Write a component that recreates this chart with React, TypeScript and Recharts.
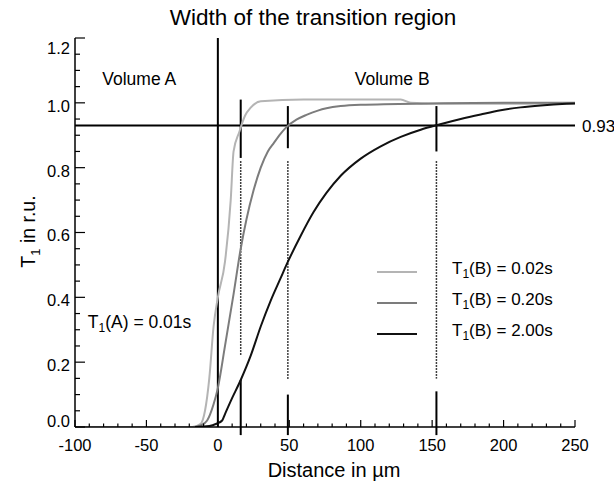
import React from "react";
import {
  Legend,
  Line,
  LineChart,
  ReferenceDot,
  ReferenceLine,
  XAxis,
  YAxis,
} from "recharts";

const FONT = '"Liberation Sans", Arial, Helvetica, sans-serif';

// T1(B) = 0.02s
const fastX = [-100, -18, -12, -9, -6, -3, 0, 5, 9, 11, 15, 19, 23, 30, 60, 100, 128, 135, 160, 200, 250];
const fastY = [0, 0, 0.01, 0.05, 0.15, 0.31, 0.4, 0.51, 0.7, 0.85, 0.91, 0.96, 0.985, 1.005, 1.01, 1.01, 1.01, 1.0, 0.997, 0.997, 0.998];

// T1(B) = 0.20s
const midX = [-16, -12, -7.5, -3, 0, 5, 11, 16, 20, 25, 30, 35, 39, 44, 48, 55, 62, 70, 76, 86, 100, 150, 200, 250];
const midY = [0, 0.005, 0.02, 0.07, 0.12, 0.25, 0.41, 0.55, 0.64, 0.73, 0.8, 0.85, 0.875, 0.905, 0.925, 0.948, 0.963, 0.976, 0.983, 0.99, 0.994, 0.998, 1.0, 1.0];

// T1(B) = 2.00s
const slowX = [-16, -6, -1, 3, 5, 9, 16, 23, 30, 37, 44, 48, 58, 67, 76, 86, 100, 114, 128, 142, 155, 170, 184, 198, 212, 226, 244, 250];
const slowY = [0, 0.003, 0.01, 0.02, 0.04, 0.08, 0.145, 0.22, 0.31, 0.39, 0.46, 0.5, 0.59, 0.663, 0.722, 0.775, 0.828, 0.866, 0.895, 0.917, 0.933, 0.95, 0.964, 0.977, 0.986, 0.992, 0.997, 0.998];

const seriesNames = ["0.02s", "0.20s", "2.00s"];
const seriesColors = ["#b4b4b4", "#7c7c7c", "#111111"];

const xMajor = [-100, -50, 0, 50, 100, 150, 200, 250];
const yMajor = [0, 0.2, 0.4, 0.6, 0.8, 1.0, 1.2];
const xMinor = Array.from({ length: 36 }, (_, i) => -100 + i * 10);
const yMinor = Array.from({ length: 25 }, (_, i) => Math.round(i * 5) / 100);

// width markers where each curve reaches 0.93
const threshold = 0.93;
const markerX = [16, 49, 153];
const markerTop = [1.01, 0.99, 0.99];
const markerUpperEnd = [0.83, 0.86, 0.85];
const dottedTop = [0.82, 0.82, 0.82];
const dottedEnd = [0.22, 0.145, 0.15];
const lowerTop = [0.145, 0.1, 0.11];
const lowerEnd = -0.025;

const toRows = (xs: number[], ys: number[]) => xs.map((x, i) => ({ x, y: ys[i] }));
const fastData = toRows(fastX, fastY);
const midData = toRows(midX, midY);
const slowData = toRows(slowX, slowY);

const isMajorX = (v: number) => xMajor.includes(v);
const isMajorY = (v: number) => yMajor.some((m) => Math.abs(m - v) < 1e-6);

function BottomTick({ x, y, payload }: any) {
  const v = payload.value;
  const major = isMajorX(v);
  return (
    <g>
      <line x1={x} x2={x} y1={y} y2={y - (major ? 7 : 3.5)} stroke="#000" strokeWidth={1.2} />
      {major && (
        <text x={x} y={y + 12} dy="0.72em" textAnchor="middle" fontSize={16.5} fontFamily={FONT} fill="#000">
          {v}
        </text>
      )}
    </g>
  );
}

function TopTick({ x, y, payload }: any) {
  const major = isMajorX(payload.value);
  return <line x1={x} x2={x} y1={y} y2={y + (major ? 7 : 3.5)} stroke="#000" strokeWidth={1.2} />;
}

function LeftTick({ x, y, payload }: any) {
  const v = payload.value;
  const major = isMajorY(v);
  const shift = v > 1.15 ? 10 : v < 0.05 ? -6 : 3;
  return (
    <g>
      <line x1={x} x2={x + (major ? 10 : 5)} y1={y} y2={y} stroke="#000" strokeWidth={1.2} />
      {major && (
        <text x={x - 5} y={y + shift} dy="0.36em" textAnchor="end" fontSize={16.5} fontFamily={FONT} fill="#000">
          {v.toFixed(1)}
        </text>
      )}
    </g>
  );
}

function RightTick({ x, y, payload }: any) {
  const major = isMajorY(payload.value);
  return <line x1={x} x2={x - (major ? 10 : 5)} y1={y} y2={y} stroke="#000" strokeWidth={1.2} />;
}

const note = (text: React.ReactNode, anchor: "start" | "middle") => ({ viewBox }: any) => (
  <text
    x={viewBox.x + viewBox.width / 2}
    y={viewBox.y + viewBox.height / 2}
    dy="0.36em"
    textAnchor={anchor}
    fontSize={17.5}
    fontFamily={FONT}
    fill="#000"
  >
    {text}
  </text>
);

function LegendContent({ payload }: any) {
  return (
    <div style={{ fontFamily: FONT, fontSize: 17, color: "#000" }}>
      {(payload || []).map((p: any) => (
        <div key={p.value} style={{ display: "flex", alignItems: "center", height: 31 }}>
          <svg width={40} height={4}>
            <line x1={0} x2={40} y1={2} y2={2} stroke={p.color} strokeWidth={2} />
          </svg>
          <span style={{ marginLeft: 35, lineHeight: "20px" }}>
            T<sub style={{ fontSize: 12 }}>1</sub>(B) = {p.value}
          </span>
        </div>
      ))}
    </div>
  );
}

const axisLine = { stroke: "#000", strokeWidth: 1.5 };

export default function App() {
  return (
    <div style={{ position: "absolute", left: 0, top: 0, width: 614, height: 484, background: "#fff" }}>
      <div
        style={{
          position: "absolute",
          left: 6,
          top: 4,
          width: 614,
          textAlign: "center",
          fontFamily: FONT,
          fontSize: 22.5,
          lineHeight: "28px",
          color: "#000",
        }}
      >
        Width of the transition region
      </div>
      <LineChart width={614} height={484} margin={{ top: 38, right: 39, bottom: 27, left: 30 }}>
        <XAxis
          dataKey="x"
          type="number"
          domain={[-100, 250]}
          ticks={xMinor}
          interval={0}
          allowDataOverflow
          height={30}
          tickSize={0}
          tickMargin={0}
          tickLine={false}
          axisLine={axisLine}
          tick={BottomTick}
          label={{
            content: ({ viewBox }: any) => (
              <text
                x={viewBox.x + viewBox.width / 2 + 9}
                y={viewBox.y + 43}
                dy="0.36em"
                textAnchor="middle"
                fontSize={20}
                fontFamily={FONT}
                fill="#000"
              >
                Distance in µm
              </text>
            ),
          }}
        />
        <XAxis
          xAxisId="top"
          orientation="top"
          type="number"
          domain={[-100, 250]}
          ticks={xMinor}
          interval={0}
          allowDataOverflow
          height={0}
          tickSize={0}
          tickMargin={0}
          tickLine={false}
          axisLine={axisLine}
          tick={TopTick}
        />
        <YAxis
          type="number"
          domain={[0, 1.2]}
          ticks={yMinor}
          interval={0}
          allowDataOverflow
          width={45}
          tickSize={0}
          tickMargin={0}
          tickLine={false}
          axisLine={axisLine}
          tick={LeftTick}
          label={{
            content: ({ viewBox }: any) => {
              const cx = viewBox.x - 2;
              const cy = viewBox.y + viewBox.height / 2 - 1;
              return (
                <text
                  transform={`rotate(-90 ${cx} ${cy})`}
                  x={cx}
                  y={cy}
                  dy="0.36em"
                  textAnchor="middle"
                  fontSize={19.5}
                  fontFamily={FONT}
                  fill="#000"
                >
                  <tspan>T</tspan>
                  <tspan dy={5} fontSize={13}>1</tspan>
                  <tspan dy={-5}> in r.u.</tspan>
                </text>
              );
            },
          }}
        />
        <YAxis
          yAxisId="right"
          orientation="right"
          type="number"
          domain={[0, 1.2]}
          ticks={yMinor}
          interval={0}
          allowDataOverflow
          width={0}
          tickSize={0}
          tickMargin={0}
          tickLine={false}
          axisLine={axisLine}
          tick={RightTick}
        />

        <ReferenceLine x={0} stroke="#000" strokeWidth={2} />
        <ReferenceLine
          y={threshold}
          stroke="#000"
          strokeWidth={2}
          label={{
            content: ({ viewBox }: any) => (
              <text x={viewBox.x + viewBox.width + 7} y={viewBox.y} dy="0.36em" fontSize={17} fontFamily={FONT} fill="#000">
                {threshold.toFixed(2)}
              </text>
            ),
          }}
        />

        {markerX.map((m, i) => (
          <ReferenceLine
            key={`u${m}`}
            segment={[{ x: m, y: markerTop[i] }, { x: m, y: markerUpperEnd[i] }]}
            stroke="#000"
            strokeWidth={2}
          />
        ))}
        {markerX.map((m, i) => (
          <ReferenceLine
            key={`d${m}`}
            segment={[{ x: m, y: dottedTop[i] }, { x: m, y: dottedEnd[i] }]}
            stroke="#000"
            strokeWidth={1.5}
            strokeDasharray="1.5 1.5"
          />
        ))}
        {markerX.map((m, i) => (
          <ReferenceLine
            key={`l${m}`}
            segment={[{ x: m, y: lowerTop[i] }, { x: m, y: lowerEnd }]}
            stroke="#000"
            strokeWidth={2}
            ifOverflow="visible"
          />
        ))}

        <ReferenceDot x={-55} y={1.075} r={0} fill="none" stroke="none" label={{ content: note("Volume A", "middle") }} />
        <ReferenceDot x={122} y={1.075} r={0} fill="none" stroke="none" label={{ content: note("Volume B", "middle") }} />
        <ReferenceDot
          x={-91}
          y={0.325}
          r={0}
          fill="none"
          stroke="none"
          label={{
            content: note(
              <>
                <tspan>T</tspan>
                <tspan dy={4} fontSize={12}>1</tspan>
                <tspan dy={-4}>(A) = 0.01s</tspan>
              </>,
              "start"
            ),
          }}
        />

        <Line data={fastData} dataKey="y" name={seriesNames[0]} stroke={seriesColors[0]} strokeWidth={2} dot={false} type="monotone" isAnimationActive={false} />
        <Line data={midData} dataKey="y" name={seriesNames[1]} stroke={seriesColors[1]} strokeWidth={2} dot={false} type="monotone" isAnimationActive={false} />
        <Line data={slowData} dataKey="y" name={seriesNames[2]} stroke={seriesColors[2]} strokeWidth={2} dot={false} type="monotone" isAnimationActive={false} />

        <Legend
          layout="vertical"
          align="center"
          verticalAlign="middle"
          content={LegendContent}
          wrapperStyle={{ position: "absolute", left: 377, top: 256, width: 220, height: 100 }}
        />
      </LineChart>
    </div>
  );
}
